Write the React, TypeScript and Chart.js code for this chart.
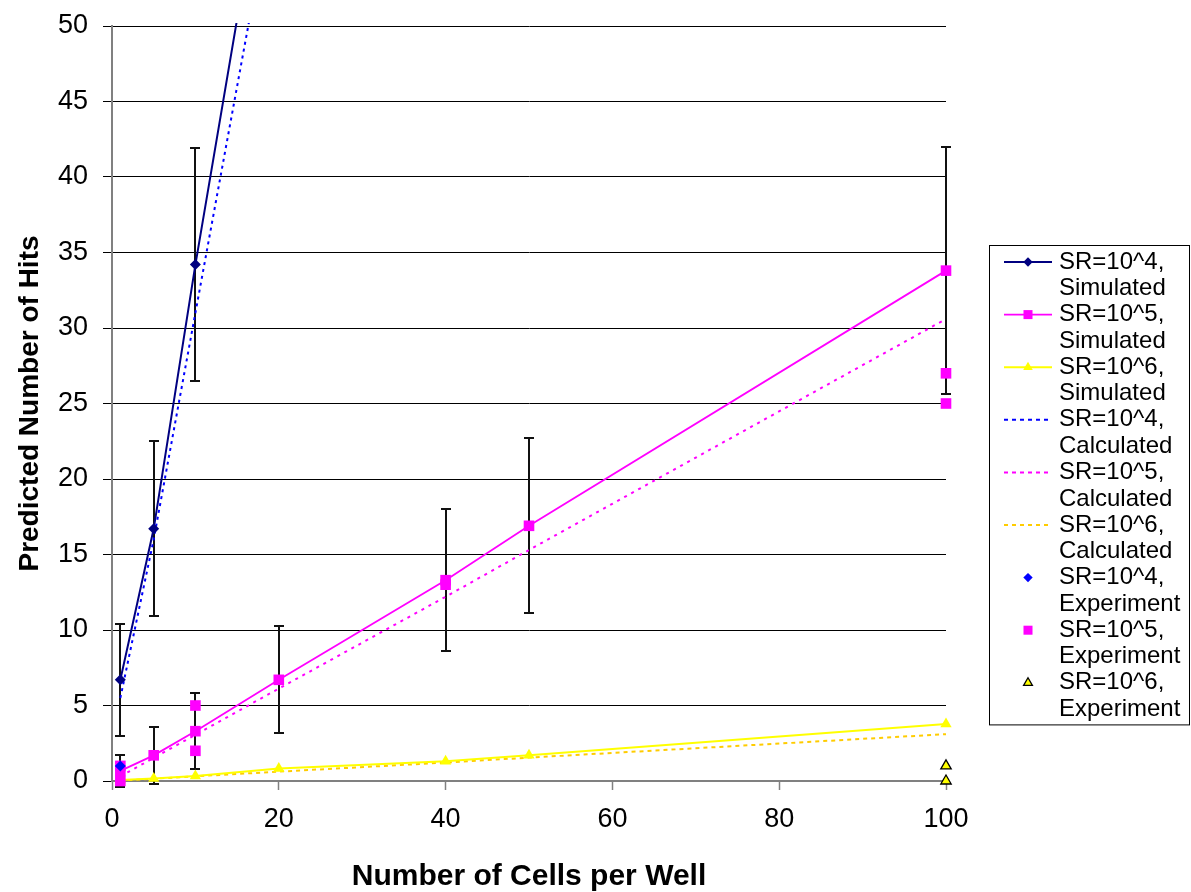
import React, { useEffect, useRef } from "react";
import { Chart, registerables } from "chart.js";

Chart.register(...registerables);

// Cells per well used for the simulated / calculated series
const cellsPerWell = [1, 5, 10, 20, 40, 50, 100];
const sr4Cells = [1, 5, 10, 20];

// SR = 10^4
const sr4Simulated = [6.7, 16.7, 34.2, 66.7];
const sr4SimulatedErr = [3.7, 5.8, 7.7, null];
const sr4Calculated = [5.5, 16.0, 31.0, 61.0];

// SR = 10^5
const sr5Simulated = [0.67, 1.7, 3.3, 6.7, 13.3, 16.9, 33.8];
const sr5SimulatedErr = [1.07, 1.9, 2.5, 3.55, 4.7, 5.8, 8.2];
const sr5Calculated = [0.31, 1.53, 3.06, 6.12, 12.2, 15.3, 30.6];

// SR = 10^6
const sr6Simulated = [0.07, 0.17, 0.33, 0.83, 1.3, 1.7, 3.77];
const sr6Calculated = [0.03, 0.15, 0.31, 0.62, 1.22, 1.55, 3.1];

// Experimental observations
const sr4ExpCells = [1];
const sr4Experiment = [1.0];
const sr5ExpCells = [1, 1, 10, 10, 40, 100, 100];
const sr5Experiment = [0, 1, 5, 2, 13, 27, 25];
const sr6ExpCells = [100, 100];
const sr6Experiment = [1, 0];

const xTicks = { min: 0, max: 100, step: 20 };
const yTicks = { min: 0, max: 50, step: 5 };

const FONT = "'Liberation Sans', Arial, Helvetica, sans-serif";
const NAVY = "#000080";
const MAGENTA = "#FF00FF";
const YELLOW = "#FFFF00";
const BLUE = "#0000FF";
const GOLD = "#FFCC00";

const pts = (xs: number[], ys: number[]) => xs.map((x, i) => ({ x, y: ys[i] }));

// Let markers at the plot edges show in full; steep lines stop just past the top
const OPEN_CLIP = { left: 10, right: 10, top: 10, bottom: 10 };
const TOP_CLIP = { left: 10, right: 10, top: 3, bottom: 10 };

function drawMarker(
  ctx: CanvasRenderingContext2D,
  style: string,
  x: number,
  y: number,
  r: number,
  fill: string,
  stroke: string,
  lw: number
) {
  ctx.beginPath();
  if (style === "rectRot") {
    ctx.moveTo(x - r, y);
    ctx.lineTo(x, y - r);
    ctx.lineTo(x + r, y);
    ctx.lineTo(x, y + r);
    ctx.closePath();
  } else if (style === "rect") {
    const s = r * Math.SQRT1_2;
    ctx.rect(x - s, y - s, 2 * s, 2 * s);
  } else if (style === "triangle") {
    let rad = 0;
    ctx.moveTo(x + Math.sin(rad) * r, y - Math.cos(rad) * r);
    rad += (2 * Math.PI) / 3;
    ctx.lineTo(x + Math.sin(rad) * r, y - Math.cos(rad) * r);
    rad += (2 * Math.PI) / 3;
    ctx.lineTo(x + Math.sin(rad) * r, y - Math.cos(rad) * r);
    ctx.closePath();
  } else {
    ctx.arc(x, y, r, 0, Math.PI * 2);
  }
  ctx.fillStyle = fill;
  ctx.fill();
  if (lw > 0) {
    ctx.lineWidth = lw;
    ctx.strokeStyle = stroke;
    ctx.stroke();
  }
}

// Vertical error bars with caps for datasets that carry an errorBars array
const errorBarPlugin = {
  id: "errorBars",
  beforeDatasetsDraw(chart: any) {
    const { ctx, scales } = chart;
    ctx.save();
    ctx.strokeStyle = "#111";
    ctx.lineWidth = 2;
    chart.data.datasets.forEach((ds: any) => {
      if (!ds.errorBars) return;
      ds.data.forEach((p: any, i: number) => {
        const e = ds.errorBars[i];
        if (e == null) return;
        const px = Math.round(scales.x.getPixelForValue(p.x));
        const top = Math.round(scales.y.getPixelForValue(p.y + e));
        const bot = Math.round(scales.y.getPixelForValue(p.y - e));
        ctx.beginPath();
        ctx.moveTo(px, top);
        ctx.lineTo(px, bot);
        ctx.moveTo(px - 5, top);
        ctx.lineTo(px + 5, top);
        ctx.moveTo(px - 5, bot);
        ctx.lineTo(px + 5, bot);
        ctx.stroke();
      });
    });
    ctx.restore();
  },
};

// Boxed legend with two-line labels on the right side
const boxLegendPlugin = {
  id: "boxLegend",
  afterDraw(chart: any) {
    const { ctx, chartArea } = chart;
    const boxLeft = chartArea.right + 43;
    const boxTop = 245;
    const boxRight = chart.width - 1;
    const rowH = 52.6;
    const lineGap = 26.5;
    const datasets = chart.data.datasets;
    const boxBottom = boxTop + datasets.length * rowH + 6;
    ctx.save();
    ctx.fillStyle = "#fff";
    ctx.fillRect(boxLeft, boxTop, boxRight - boxLeft, boxBottom - boxTop);
    ctx.strokeStyle = "#000";
    ctx.lineWidth = 1;
    ctx.strokeRect(boxLeft + 0.5, boxTop + 0.5, boxRight - boxLeft - 1, boxBottom - boxTop);
    ctx.font = `24px ${FONT}`;
    ctx.textBaseline = "middle";
    ctx.textAlign = "left";
    const symX0 = boxLeft + 15;
    const symX1 = boxLeft + 63;
    const symMid = (symX0 + symX1) / 2;
    const textX = boxLeft + 70;
    datasets.forEach((ds: any, i: number) => {
      const y1 = boxTop + 17 + i * rowH;
      if (ds.showLine) {
        ctx.save();
        ctx.strokeStyle = ds.borderColor;
        ctx.lineWidth = ds.borderWidth;
        ctx.setLineDash(ds.borderDash ? [4, 4] : []);
        ctx.beginPath();
        ctx.moveTo(symX0, y1);
        ctx.lineTo(symX1, y1);
        ctx.stroke();
        ctx.restore();
      }
      if (ds.pointRadius > 0) {
        drawMarker(
          ctx,
          ds.pointStyle,
          symMid,
          y1,
          ds.pointRadius * 0.85,
          ds.pointBackgroundColor,
          ds.pointBorderColor,
          ds.pointBorderWidth
        );
      }
      const parts = ds.label.split(", ");
      ctx.fillStyle = "#000";
      ctx.fillText(parts[0] + ",", textX, y1);
      ctx.fillText(parts[1], textX, y1 + lineGap);
    });
    ctx.restore();
  },
};

function lineSet(label: string, xs: number[], ys: number[], color: string, extra: any) {
  return {
    label,
    data: pts(xs, ys),
    showLine: true,
    borderColor: color,
    backgroundColor: color,
    borderWidth: 2,
    pointBackgroundColor: color,
    pointBorderColor: color,
    pointBorderWidth: 0,
    clip: OPEN_CLIP,
    ...extra,
  };
}

export default function App() {
  const ref = useRef<HTMLCanvasElement>(null);

  useEffect(() => {
    document.body.style.margin = "0";
    const canvas = ref.current;
    if (!canvas) return;

    const datasets: any[] = [
      lineSet("SR=10^4, Simulated", sr4Cells, sr4Simulated, NAVY, {
        pointStyle: "rectRot",
        pointRadius: 5.5,
        errorBars: sr4SimulatedErr,
        clip: TOP_CLIP,
        order: 20,
      }),
      lineSet("SR=10^5, Simulated", cellsPerWell, sr5Simulated, MAGENTA, {
        pointStyle: "rect",
        pointRadius: 7.5,
        borderWidth: 1.8,
        errorBars: sr5SimulatedErr,
        order: 21,
      }),
      lineSet("SR=10^6, Simulated", cellsPerWell, sr6Simulated, YELLOW, {
        pointStyle: "triangle",
        pointRadius: 6.5,
        order: 22,
      }),
      lineSet("SR=10^4, Calculated", sr4Cells, sr4Calculated, BLUE, {
        pointRadius: 0,
        borderDash: [3, 4],
        clip: TOP_CLIP,
        order: 30,
      }),
      lineSet("SR=10^5, Calculated", cellsPerWell, sr5Calculated, MAGENTA, {
        pointRadius: 0,
        borderDash: [3, 5],
        order: 31,
      }),
      lineSet("SR=10^6, Calculated", cellsPerWell, sr6Calculated, GOLD, {
        pointRadius: 0,
        borderDash: [4, 4],
        order: 32,
      }),
      {
        label: "SR=10^4, Experiment",
        data: pts(sr4ExpCells, sr4Experiment),
        showLine: false,
        pointStyle: "rectRot",
        pointRadius: 5.5,
        pointBackgroundColor: BLUE,
        pointBorderColor: BLUE,
        pointBorderWidth: 0,
        clip: OPEN_CLIP,
        order: 10,
      },
      {
        label: "SR=10^5, Experiment",
        data: pts(sr5ExpCells, sr5Experiment),
        showLine: false,
        pointStyle: "rect",
        pointRadius: 7.5,
        pointBackgroundColor: MAGENTA,
        pointBorderColor: MAGENTA,
        pointBorderWidth: 0,
        clip: OPEN_CLIP,
        order: 11,
      },
      {
        label: "SR=10^6, Experiment",
        data: pts(sr6ExpCells, sr6Experiment),
        showLine: false,
        pointStyle: "triangle",
        pointRadius: 6,
        pointBackgroundColor: YELLOW,
        pointBorderColor: "#000",
        pointBorderWidth: 1.3,
        clip: OPEN_CLIP,
        order: 12,
      },
    ];

    const chart = new Chart(canvas, {
      type: "scatter",
      data: { datasets },
      options: {
        animation: false,
        responsive: false,
        devicePixelRatio: 1,
        layout: { padding: { left: 0, right: 245, top: 26, bottom: 0 } },
        plugins: {
          legend: { display: false },
          tooltip: { enabled: false },
        },
        scales: {
          x: {
            type: "linear",
            min: xTicks.min,
            max: xTicks.max,
            afterFit: (s: any) => {
              s.height = 111;
            },
            ticks: {
              stepSize: xTicks.step,
              color: "#000",
              padding: 13,
              font: { family: FONT, size: 27 },
              maxRotation: 0,
            },
            grid: {
              drawOnChartArea: false,
              drawTicks: true,
              tickLength: 9,
              tickColor: "#808080",
              tickWidth: 1.5,
            },
            border: { color: "#808080", width: 2 },
            title: {
              display: true,
              text: "Number of Cells per Well",
              color: "#000",
              font: { family: FONT, size: 30, weight: "bold", lineHeight: 1.0 },
              padding: { top: 0, bottom: 0 },
            },
          },
          y: {
            type: "linear",
            min: yTicks.min,
            max: yTicks.max,
            afterFit: (s: any) => {
              s.width = 112;
              // keep the plot top set by the layout padding alone
              s.paddingTop = 0;
              s.paddingBottom = 0;
            },
            ticks: {
              stepSize: yTicks.step,
              color: "#000",
              padding: 15,
              font: { family: FONT, size: 27 },
            },
            grid: {
              color: "#000",
              lineWidth: 1,
              tickLength: 9,
              tickColor: "#000",
            },
            border: { color: "#808080", width: 2 },
            title: {
              display: true,
              text: "Predicted Number of Hits",
              color: "#000",
              font: { family: FONT, size: 28, weight: "bold", lineHeight: 1.2 },
              padding: { top: 13, bottom: 0 },
            },
          },
        },
      } as any,
      plugins: [errorBarPlugin, boxLegendPlugin],
    });

    return () => chart.destroy();
  }, []);

  return (
    <div style={{ position: "relative", width: 1191, height: 892 }}>
      <canvas ref={ref} width={1191} height={892} style={{ display: "block" }} />
    </div>
  );
}
